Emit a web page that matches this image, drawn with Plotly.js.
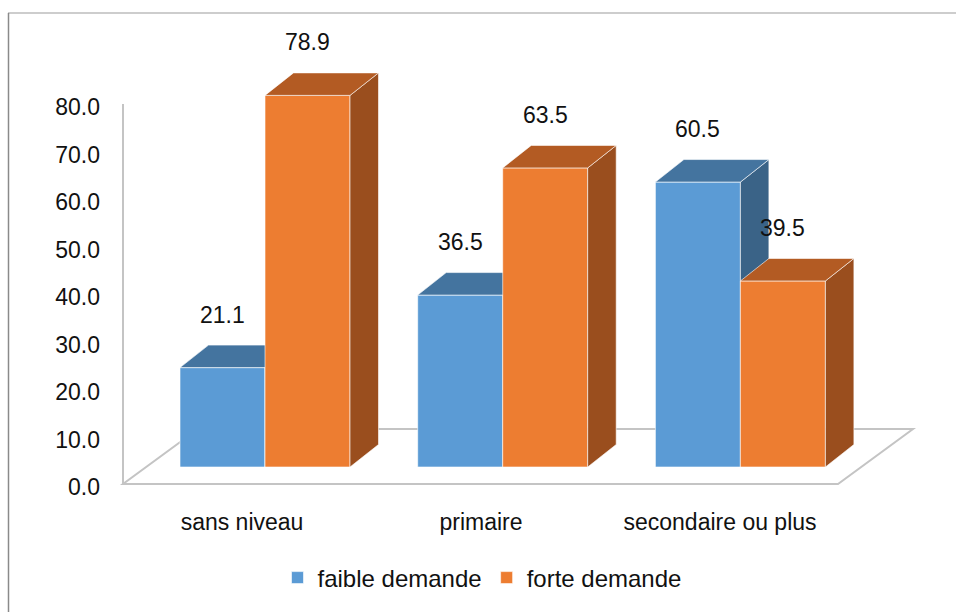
<!DOCTYPE html>
<html>
<head>
<meta charset="utf-8">
<script src="https://cdn.plot.ly/plotly-3.0.1.min.js"></script>
<style>
  html, body { margin: 0; padding: 0; background: #fff; }
  #chart { width: 956px; height: 612px; }
</style>
</head>
<body>
<div id="chart"></div>
<script>
// Demande selon le niveau d'instruction (%)
const categories = ['sans niveau', 'primaire', 'secondaire ou plus'];
const faibleDemande = [21.1, 36.5, 60.5];
const forteDemande = [78.9, 63.5, 39.5];
const yTickValues = [0, 10, 20, 30, 40, 50, 60, 70, 80];
const seriesNames = ['faible demande', 'forte demande'];

// ---- page geometry (pixels) ----
const W = 956, H = 612;
const PLOT = { l: 123, r: 923, t: 20, b: 490 };
const FONT = 'Liberation Sans, Arial, sans-serif';

// value axis: front edge of the floor
const AXIS_ZERO_PX = 484, AXIS_PX_PER_UNIT = 4.75;
// category labels sit on the front edge of the floor
const LABEL_X0 = 242, LABEL_STEP = 239;
// columns stand further back in the box
const BAR_ZERO_PX = 467, BAR_PX_PER_UNIT = 4.71;
const GROUP_X0 = 265, GROUP_STEP = 237.7;
const BAR_PX = 85;
// oblique depth of each column
const DEPTH_DX_PX = 28.5, DEPTH_DY_PX = 22.5;
// floor depth
const FLOOR_RIGHT_PX = 838, FLOOR_DX_PX = 75, FLOOR_DY_PX = 55;

const plotW = PLOT.r - PLOT.l, plotH = PLOT.b - PLOT.t;
const px2paperX = px => (px - PLOT.l) / plotW;
const px2paperY = py => (PLOT.b - py) / plotH;

const yRange1 = [(AXIS_ZERO_PX - PLOT.b) / AXIS_PX_PER_UNIT, (AXIS_ZERO_PX - PLOT.t) / AXIS_PX_PER_UNIT];
const xRange1 = [(PLOT.l - LABEL_X0) / LABEL_STEP, (PLOT.r - LABEL_X0) / LABEL_STEP];
const yRangeBars = [(BAR_ZERO_PX - PLOT.b) / BAR_PX_PER_UNIT, (BAR_ZERO_PX - PLOT.t) / BAR_PX_PER_UNIT];
const xRangeBars = [(PLOT.l - GROUP_X0) / GROUP_STEP, (PLOT.r - GROUP_X0) / GROUP_STEP];

const BAR_W = BAR_PX / GROUP_STEP;
const DX = DEPTH_DX_PX / GROUP_STEP;
const DY = DEPTH_DY_PX / BAR_PX_PER_UNIT;

const colors = {
  faible: { front: '#5B9BD5', top: '#44749F', side: '#3A6387' },
  forte:  { front: '#ED7D31', top: '#B35B23', side: '#9A4E1E' }
};
const edge = 'rgba(255,255,255,0.6)';

// top and right faces of each column, built from the values
function depthFaces(values, offset) {
  const top = { x: [], y: [] }, side = { x: [], y: [] };
  values.forEach((v, i) => {
    const x0 = i + offset, x1 = x0 + BAR_W;
    top.x.push(x0, x1, x1 + DX, x0 + DX, x0, null);
    top.y.push(v, v, v + DY, v + DY, v, null);
    side.x.push(x1, x1, x1 + DX, x1 + DX, x1, null);
    side.y.push(0, v, v + DY, DY, 0, null);
  });
  return { top, side };
}

function seriesTraces(values, name, c, offset, xa, ya) {
  const f = depthFaces(values, offset);
  const face = (pts, color) => ({
    type: 'scatter', mode: 'lines', x: pts.x, y: pts.y, xaxis: xa, yaxis: ya,
    fill: 'toself', fillcolor: color, line: { color: edge, width: 1 },
    hoverinfo: 'skip', showlegend: false
  });
  return [
    face(f.side, c.side),
    face(f.top, c.top),
    {
      type: 'bar', name: name, x: categories.map((_, i) => i), y: values,
      offset: offset, width: BAR_W, xaxis: xa, yaxis: ya,
      marker: { color: c.front, line: { color: edge, width: 1 } },
      hovertemplate: '%{y:.1f}<extra>' + name + '</extra>'
    }
  ];
}

const OFF_FAIBLE = -BAR_W, OFF_FORTE = 0;

const traces = [
  // carrier for the category / value axes
  { type: 'scatter', mode: 'markers', x: categories.map((_, i) => i), y: categories.map(() => null),
    xaxis: 'x', yaxis: 'y', hoverinfo: 'skip', showlegend: false },
  ...seriesTraces(faibleDemande, seriesNames[0], colors.faible, OFF_FAIBLE, 'x2', 'y2'),
  ...seriesTraces(forteDemande, seriesNames[1], colors.forte, OFF_FORTE, 'x3', 'y3')
];

// value labels above each column
const LABEL_LIFT = 53;
const labelFont = { family: FONT, size: 23, color: '#111' };
const annotations = [];
faibleDemande.forEach((v, i) => annotations.push({
  xref: 'x2', yref: 'y2', x: i + OFF_FAIBLE + BAR_W / 2, y: v, yshift: LABEL_LIFT,
  text: v.toFixed(1), showarrow: false, font: labelFont
}));
forteDemande.forEach((v, i) => annotations.push({
  xref: 'x3', yref: 'y3', x: i + OFF_FORTE + BAR_W / 2, y: v, yshift: LABEL_LIFT,
  text: v.toFixed(1), showarrow: false, font: labelFont
}));

// floor outline and value axis line
const fl = { x: PLOT.l, y: AXIS_ZERO_PX };
const floorPts = [
  [fl.x, fl.y], [FLOOR_RIGHT_PX, fl.y],
  [FLOOR_RIGHT_PX + FLOOR_DX_PX, fl.y - FLOOR_DY_PX], [fl.x + FLOOR_DX_PX, fl.y - FLOOR_DY_PX]
];
const floorPath = 'M ' + floorPts.map(p => px2paperX(p[0]) + ',' + px2paperY(p[1])).join(' L ') + ' Z';
const gridGrey = '#C4C4C4';
const shapes = [
  { type: 'path', xref: 'paper', yref: 'paper', path: floorPath, layer: 'below',
    line: { color: gridGrey, width: 2 } },
  { type: 'line', xref: 'paper', yref: 'y', x0: 0, x1: 0, y0: 0, y1: 80, layer: 'below',
    line: { color: gridGrey, width: 2 } },
  // chart frame
  { type: 'line', xref: 'paper', yref: 'paper', x0: px2paperX(8), x1: px2paperX(W), y0: px2paperY(13), y1: px2paperY(13),
    line: { color: '#BDBDBD', width: 1.5 } },
  { type: 'line', xref: 'paper', yref: 'paper', x0: px2paperX(8.5), x1: px2paperX(8.5), y0: px2paperY(13), y1: px2paperY(H),
    line: { color: '#8A8A8A', width: 1.5 } }
];

const hiddenAxis = (range, overlay) => ({ range: range, visible: false, overlaying: overlay, fixedrange: true });

const layout = {
  width: W, height: H,
  margin: { l: PLOT.l, r: W - PLOT.r, t: PLOT.t, b: H - PLOT.b, pad: 0 },
  paper_bgcolor: '#ffffff', plot_bgcolor: 'rgba(0,0,0,0)',
  font: { family: FONT, size: 23, color: '#111' },
  xaxis: {
    range: xRange1, tickvals: categories.map((_, i) => i), ticktext: categories,
    showgrid: false, zeroline: false, showline: false, ticks: '',
    ticklabelstandoff: 16, tickfont: { family: FONT, size: 23, color: '#111' }, fixedrange: true
  },
  yaxis: {
    range: yRange1, tickvals: yTickValues, ticktext: yTickValues.map(v => v.toFixed(1)),
    showgrid: false, zeroline: false, showline: false, ticks: '',
    ticklabelstandoff: 22, ticklabelshift: 3,
    tickfont: { family: FONT, size: 23, color: '#111' }, fixedrange: true
  },
  xaxis2: hiddenAxis(xRangeBars, 'x'), yaxis2: hiddenAxis(yRangeBars, 'y'),
  xaxis3: hiddenAxis(xRangeBars, 'x'), yaxis3: hiddenAxis(yRangeBars, 'y'),
  showlegend: true,
  legend: {
    orientation: 'h', x: px2paperX(482), xanchor: 'center', y: px2paperY(578), yanchor: 'middle',
    font: { family: FONT, size: 24, color: '#111' }, itemclick: false, itemdoubleclick: false,
    traceorder: 'normal'
  },
  annotations: annotations,
  shapes: shapes,
  bargap: 0
};

Plotly.newPlot('chart', traces, layout, { displayModeBar: false, staticPlot: true });
</script>
</body>
</html>
